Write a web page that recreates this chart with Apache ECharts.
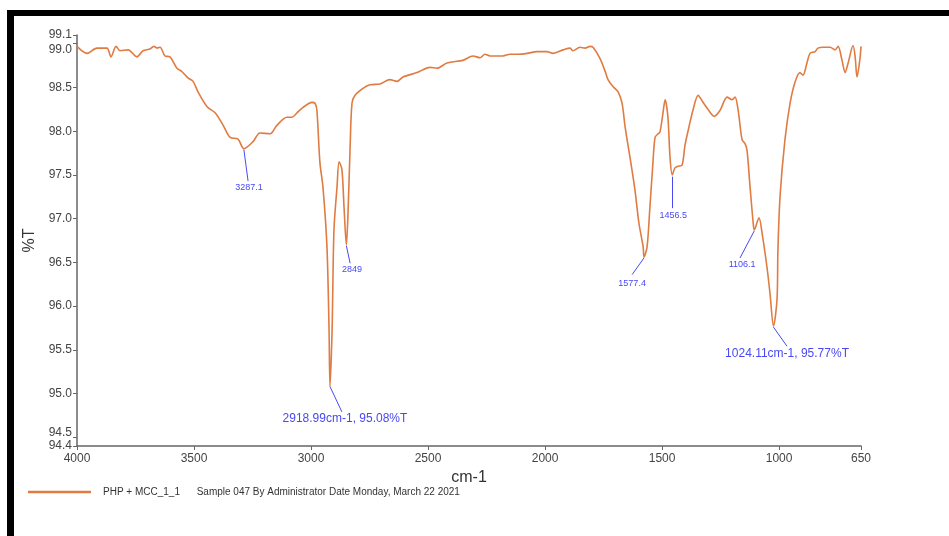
<!DOCTYPE html>
<html>
<head>
<meta charset="utf-8">
<script src="https://cdn.jsdelivr.net/npm/echarts@6/dist/echarts.min.js"></script>
<style>
  html, body { margin: 0; padding: 0; background: #fff; }
  #frame {
    position: absolute; left: 7px; top: 10px; width: 935px; height: 520px;
    border-top: 6px solid #000; border-left: 7px solid #000; border-bottom: 3px solid #000;
  }
  #chart { position: absolute; left: 0; top: 0; width: 949px; height: 536px; }
</style>
</head>
<body>
<div id="frame"></div>
<div id="chart"></div>
<script>
// FTIR spectrum, wavenumber (cm-1) vs transmittance (%T)
const wavenumbers = [
  4000, 3957, 3915, 3872, 3855, 3833, 3816, 3782, 3744, 3718, 3688, 3671, 3658, 3645, 3624,
  3603, 3573, 3551, 3526, 3504, 3483, 3444, 3410, 3376, 3346, 3312, 3287, 3248, 3218, 3175,
  3145, 3103, 3082, 3060, 3035, 2996, 2983, 2975, 2962, 2949, 2932, 2923, 2919, 2910, 2902,
  2889, 2880, 2868, 2859, 2849, 2842, 2833, 2825, 2812, 2778, 2748, 2705, 2663, 2633, 2607,
  2547, 2492, 2462, 2419, 2351, 2308, 2278, 2257, 2235, 2180, 2150, 2116, 2077, 2034, 1992,
  1966, 1923, 1893, 1881, 1851, 1829, 1808, 1795, 1765, 1744, 1731, 1710, 1688, 1671, 1658,
  1637, 1616, 1599, 1581, 1577, 1564, 1552, 1539, 1530, 1517, 1509, 1496, 1487, 1475, 1466,
  1456.5, 1445, 1432, 1415, 1402, 1385, 1368, 1346, 1325, 1304, 1278, 1252, 1222, 1201, 1188,
  1175, 1158, 1146, 1137, 1124, 1111, 1106, 1086, 1073, 1052, 1039, 1024, 1009, 1005, 996,
  975, 953, 932, 911, 898, 881, 868, 846, 834, 812, 782, 761, 748, 731, 718,
  705, 684, 675, 667, 654, 650
];
const transmittance = [
  98.97, 98.89, 98.95, 98.95, 98.85, 98.97, 98.92, 98.93, 98.85, 98.92, 98.94, 98.97, 98.95, 98.96, 98.86,
  98.85, 98.72, 98.68, 98.61, 98.57, 98.45, 98.28, 98.21, 98.07, 97.93, 97.91, 97.80, 97.88, 97.98, 97.97,
  98.07, 98.16, 98.16, 98.21, 98.27, 98.33, 98.32, 98.24, 97.64, 97.36, 96.68, 95.73, 95.08, 95.73, 96.87,
  97.36, 97.65, 97.56, 97.13, 96.70, 97.06, 97.82, 98.32, 98.41, 98.49, 98.53, 98.54, 98.59, 98.57, 98.62,
  98.67, 98.73, 98.72, 98.78, 98.81, 98.86, 98.84, 98.88, 98.86, 98.86, 98.88, 98.88, 98.89, 98.91, 98.91,
  98.89, 98.93, 98.95, 98.92, 98.96, 98.95, 98.97, 98.96, 98.83, 98.69, 98.59, 98.51, 98.45, 98.32, 98.05,
  97.70, 97.33, 96.95, 96.68, 96.56, 96.68, 97.13, 97.64, 97.93, 97.97, 97.99, 98.21, 98.36, 98.16, 97.70,
  97.50, 97.58, 97.60, 97.61, 97.84, 98.05, 98.24, 98.41, 98.33, 98.25, 98.17, 98.24, 98.39, 98.36, 98.39,
  98.24, 97.90, 97.86, 97.78, 97.36, 96.96, 96.87, 97.01, 96.84, 96.45, 96.15, 95.77, 96.07, 96.64, 97.25,
  97.90, 98.32, 98.56, 98.67, 98.64, 98.78, 98.89, 98.91, 98.95, 98.96, 98.96, 98.93, 98.97, 98.81, 98.67,
  98.78, 98.98, 98.85, 98.62, 98.84, 98.97
];

const xTicks = [4000, 3500, 3000, 2500, 2000, 1500, 1000, 650];
const yTicks = [94.4, 94.5, 95.0, 95.5, 96.0, 96.5, 97.0, 97.5, 98.0, 98.5, 99.0, 99.1];

// peak annotations: text, peak point, leader line end, label centre
const peakText = ['3287.1', '2849', '2918.99cm-1, 95.08%T', '1577.4', '1456.5', '1106.1', '1024.11cm-1, 95.77%T'];
const peakPoint = [[3287, 97.79], [2849, 96.69], [2919, 95.08], [1577.4, 96.55], [1456.5, 97.48], [1106.1, 96.86], [1024.11, 95.76]];
const lineEnd = [[3269, 97.43], [2833, 96.49], [2868, 94.79], [1628, 96.36], [1456.5, 97.12], [1167, 96.55], [966, 95.54]];
const labelAt = [[3265, 97.36], [2825, 96.42], [2855, 94.71], [1628, 96.26], [1452, 97.03], [1158, 96.47], [966, 95.45]];

const legendName = 'PHP + MCC_1_1';
const legendInfo = 'Sample 047 By Administrator Date Monday, March 22 2021';

const lineColor = '#e07b42';
const noteColor = '#4848f4';
const font = 'Liberation Sans, Arial, sans-serif';

const chart = echarts.init(document.getElementById('chart'));

const spectrum = wavenumbers.map((w, i) => [w, transmittance[i]]);

const option = {
  animation: false,
  textStyle: { fontFamily: font },
  grid: { left: 77, right: 88, top: 35, bottom: 90 },
  legend: {
    left: 23,
    top: 482,
    icon: 'rect',
    itemWidth: 63,
    itemHeight: 2.5,
    data: [legendName],
    formatter: (name) => name + '      ' + legendInfo,
    textStyle: { fontSize: 10, color: '#333', padding: [0, 0, 0, 7], fontFamily: font },
  },
  xAxis: {
    type: 'value',
    min: 650,
    max: 4000,
    inverse: true,
    name: 'cm-1',
    nameLocation: 'middle',
    nameGap: 23,
    nameTextStyle: { fontSize: 16, color: '#333' },
    axisLine: { lineStyle: { color: '#666', width: 1.5 } },
    axisTick: { customValues: xTicks, length: 4, lineStyle: { color: '#666' } },
    axisLabel: { customValues: xTicks, fontSize: 12, color: '#444', margin: 7, formatter: (v) => String(v) },
    splitLine: { show: false },
  },
  yAxis: {
    type: 'value',
    min: 94.4,
    max: 99.1,
    name: '%T',
    nameLocation: 'middle',
    nameGap: 38,
    nameTextStyle: { fontSize: 16, color: '#333' },
    axisLine: { show: true, lineStyle: { color: '#666', width: 1.5 } },
    axisTick: { show: true, customValues: yTicks, length: 4, lineStyle: { color: '#666' } },
    axisLabel: {
      customValues: yTicks,
      fontSize: 12,
      color: '#444',
      margin: 5,
      formatter: (v) => {
        const s = v.toFixed(1);
        if (s === '99.0') return '{lo|' + s + '}';
        if (s === '94.5') return '{hi|' + s + '}';
        return s;
      },
      rich: {
        lo: { fontSize: 12, color: '#444', padding: [12, 0, 0, 0] },
        hi: { fontSize: 12, color: '#444', padding: [0, 0, 9, 0] },
      },
    },
    splitLine: { show: false },
  },
  series: [
    {
      name: legendName,
      type: 'line',
      data: spectrum,
      showSymbol: false,
      smooth: 0.3,
      color: lineColor,
      lineStyle: { color: lineColor, width: 1.6 },
      markLine: {
        silent: true,
        symbol: ['none', 'none'],
        lineStyle: { color: noteColor, width: 1, type: 'solid' },
        label: { show: false },
        data: peakPoint.map((p, i) => [{ coord: p }, { coord: lineEnd[i] }]),
      },
      markPoint: {
        silent: true,
        symbol: 'circle',
        symbolSize: 0,
        data: labelAt.map((p, i) => ({
          name: peakText[i],
          coord: p,
          label: {
            show: true,
            position: 'inside',
            formatter: '{b}',
            color: noteColor,
            fontSize: peakText[i].length > 8 ? 12 : 9,
            fontFamily: font,
          },
        })),
      },
    },
  ],
};

chart.setOption(option);
</script>
</body>
</html>
